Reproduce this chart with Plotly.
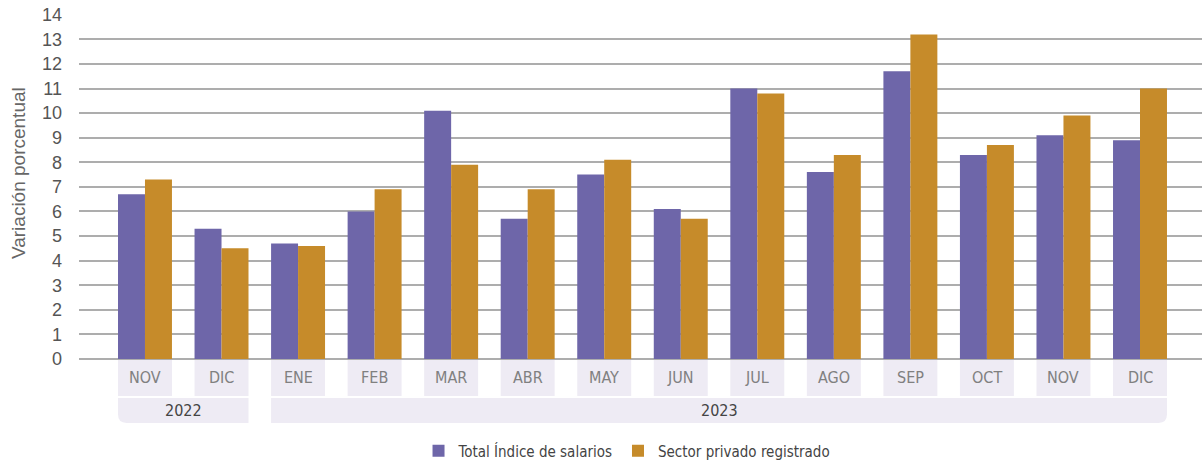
import plotly.graph_objects as go

months = ["NOV", "DIC", "ENE", "FEB", "MAR", "ABR", "MAY", "JUN", "JUL", "AGO", "SEP", "OCT", "NOV", "DIC"]
years = ["2022", "2023"]
year_first = [0, 2]   # index of first month of each year
year_last = [1, 13]   # index of last month of each year
total = [6.7, 5.3, 4.7, 6.0, 10.1, 5.7, 7.5, 6.1, 11.0, 7.6, 11.7, 8.3, 9.1, 8.9]
privado = [7.3, 4.5, 4.6, 6.9, 7.9, 6.9, 8.1, 5.7, 10.8, 8.3, 13.2, 8.7, 9.9, 11.0]
y_ticks = list(range(0, 15))

PURPLE = "#6e66a9"
ORANGE = "#c68b2a"
BOX = "#eeebf4"
NARROW = "Liberation Sans Narrow, DejaVu Sans Condensed, Arial Narrow, sans-serif"
SANS = "Liberation Sans, Arial, Helvetica, sans-serif"

xs = list(range(len(months)))
bargap = 0.295
half = (1 - bargap) / 2

fig = go.Figure()
fig.add_trace(go.Bar(x=xs, y=total, name="Total Índice de salarios",
                     marker=dict(color=PURPLE, line=dict(width=0))))
fig.add_trace(go.Bar(x=xs, y=privado, name="Sector privado registrado",
                     marker=dict(color=ORANGE, line=dict(width=0))))

# paper coords for the category band below the plot
m_top, m_bot = -0.003, -0.107
y_top, y_bot = -0.113, -0.1855
rx, ry = 0.11, 0.025

shapes = []
annotations = []
for i, m in enumerate(months):
    shapes.append(dict(type="rect", xref="x", yref="paper", x0=i - half, x1=i + half,
                       y0=m_bot, y1=m_top, fillcolor=BOX, line=dict(width=0), layer="below"))
    annotations.append(dict(x=i, y=(m_top + m_bot) / 2, xref="x", yref="paper", text=m,
                            showarrow=False, xanchor="center", yanchor="middle",
                            font=dict(family=NARROW, size=16, color="#808080")))

for k, yr in enumerate(years):
    x0 = year_first[k] - half
    x1 = year_last[k] + half
    if k == 0:
        path = (f"M {x0},{y_top} L {x1},{y_top} L {x1},{y_bot} L {x0 + rx},{y_bot} "
                f"Q {x0},{y_bot} {x0},{y_bot + ry} Z")
    else:
        path = (f"M {x0},{y_top} L {x1},{y_top} L {x1},{y_bot + ry} "
                f"Q {x1},{y_bot} {x1 - rx},{y_bot} L {x0},{y_bot} Z")
    shapes.append(dict(type="path", xref="x", yref="paper", path=path,
                       fillcolor=BOX, line=dict(width=0), layer="below"))
    annotations.append(dict(x=(year_first[k] + year_last[k]) / 2, y=(y_top + y_bot) / 2,
                            xref="x", yref="paper", text=yr, showarrow=False,
                            xanchor="center", yanchor="middle",
                            font=dict(family=NARROW, size=16, color="#444444")))

annotations.append(dict(x=-0.0543, y=0.539, xref="paper", yref="paper",
                        text="Variación porcentual", textangle=-90, showarrow=False,
                        xanchor="center", yanchor="middle",
                        font=dict(family=SANS, size=19, color="#666666")))

fig.update_layout(
    width=1202, height=460,
    margin=dict(l=79, r=0, t=14, b=101, autoexpand=False),
    paper_bgcolor="white", plot_bgcolor="white",
    barmode="group", bargap=bargap, bargroupgap=0,
    showlegend=True,
    legend=dict(orientation="h", x=0.488, xanchor="center", y=-0.267, yanchor="middle",
                font=dict(family=NARROW, size=15, color="#444444"),
                itemsizing="constant", bgcolor="rgba(0,0,0,0)"),
    xaxis=dict(range=[-0.862, 13.81], showticklabels=False, showgrid=False,
               zeroline=False, showline=False, ticks="", automargin=False),
    yaxis=dict(range=[0, 14.03], tickvals=y_ticks, showgrid=True, gridcolor="#adadad",
               gridwidth=1.6, zeroline=True, zerolinecolor="#adadad", zerolinewidth=1.6,
               showline=False, ticks="", ticklabelstandoff=16, automargin=False,
               tickfont=dict(family=SANS, size=18, color="#555555")),
    shapes=shapes,
    annotations=annotations,
)

fig.write_html("out.html", config={"displayModeBar": False},
               post_script="document.body.style.margin='0';document.body.style.overflow='hidden';")
